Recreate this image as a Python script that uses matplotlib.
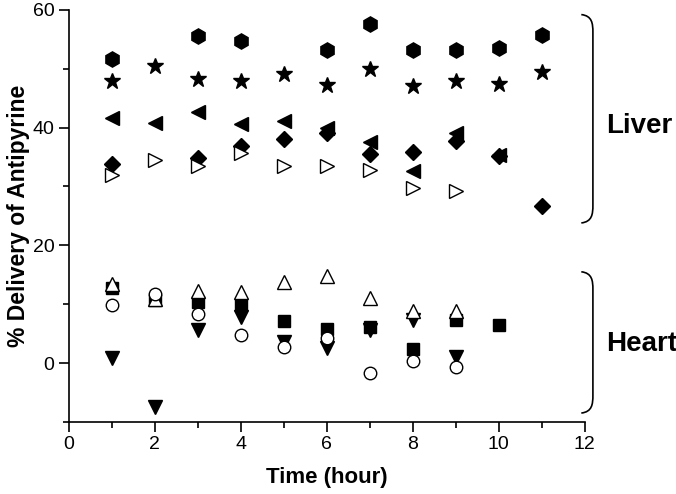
import matplotlib
matplotlib.use("Agg")
import matplotlib.pyplot as plt
from matplotlib.path import Path
from matplotlib.patches import PathPatch

plt.rcParams['font.family'] = ['Liberation Sans', 'DejaVu Sans']

# liver series
hex_x = [1, 3, 4, 6, 7, 8, 9, 10, 11]
hex_y = [51.6, 55.5, 54.7, 53.1, 57.6, 53.2, 53.2, 53.6, 55.7]
star_x = [1, 2, 3, 4, 5, 6, 7, 8, 9, 10, 11]
star_y = [48.0, 50.4, 48.3, 48.0, 49.1, 47.3, 49.9, 47.0, 48.0, 47.4, 49.4]
ltri_x = [1, 2, 3, 4, 5, 6, 7, 8, 9, 10]
ltri_y = [41.6, 40.8, 42.7, 40.6, 41.1, 39.9, 37.5, 32.7, 39.1, 35.4]
dia_x = [1, 3, 4, 5, 6, 7, 8, 9, 10, 11]
dia_y = [33.8, 34.8, 36.8, 38.1, 39.1, 35.5, 35.9, 37.7, 35.2, 26.7]
rtri_x = [1, 2, 3, 4, 5, 6, 7, 8, 9]
rtri_y = [32.0, 34.5, 33.4, 35.7, 33.5, 33.5, 32.8, 29.7, 29.3]

# heart series
utri_x = [1, 2, 3, 4, 5, 6, 7, 8, 9]
utri_y = [13.5, 10.9, 12.2, 12.0, 13.7, 14.8, 11.1, 8.9, 8.9]
sq_x = [1, 2, 3, 4, 5, 6, 7, 8, 9, 10]
sq_y = [12.7, 10.7, 10.3, 9.9, 7.2, 5.8, 6.1, 2.4, 7.3, 6.5]
circ_x = [1, 2, 3, 4, 5, 6, 7, 8, 9]
circ_y = [9.9, 11.8, 8.4, 4.8, 2.8, 4.2, -1.7, 0.4, -0.6]
dtri_x = [1, 2, 3, 4, 5, 6, 7, 8, 9]
dtri_y = [0.8, -7.4, 5.6, 7.9, 3.5, 2.6, 5.6, 7.3, 1.1]

fig = plt.figure(figsize=(6.76, 4.94), dpi=100)
ax = fig.add_axes([0.102, 0.146, 0.763, 0.834])

ms = 10
# filled markers
ax.plot(hex_x, hex_y, 'h', color='black', ms=ms + 1, ls='none')
ax.plot(star_x, star_y, '*', color='black', ms=ms + 2, ls='none')
ax.plot(ltri_x, ltri_y, '<', color='black', ms=ms, ls='none')
ax.plot(dia_x, dia_y, 'D', color='black', ms=ms - 2, ls='none')
ax.plot(sq_x, sq_y, 's', color='black', ms=ms - 2, ls='none')
ax.plot(dtri_x, dtri_y, 'v', color='black', ms=ms, ls='none')
# open markers
ax.plot(rtri_x, rtri_y, '>', mfc='white', mec='black', mew=1, ms=ms, ls='none')
ax.plot(utri_x, utri_y, '^', mfc='white', mec='black', mew=1, ms=ms, ls='none')
ax.plot(circ_x, circ_y, 'o', mfc='white', mec='black', mew=1, ms=ms - 1, ls='none')

ax.set_xlim(0, 12)
ax.set_ylim(-10, 60)
ax.set_xticks(range(0, 13, 2))
ax.set_xticks(range(1, 12, 2), minor=True)
ax.set_yticks([0, 20, 40, 60])
ax.set_yticks([-10, 10, 30, 50], minor=True)
ax.spines['top'].set_visible(False)
ax.spines['right'].set_visible(False)
ax.tick_params(which='major', length=7, width=1.2, labelsize=14)
ax.tick_params(which='minor', length=4, width=1.2)
for s in ['left', 'bottom']:
    ax.spines[s].set_linewidth(1.2)

ax.set_xlabel('Time (hour)', fontsize=16, fontweight='bold', labelpad=10)
ax.set_ylabel('% Delivery of Antipyrine', fontsize=16.5, fontweight='bold', labelpad=2)


# right-side brackets
def bracket(y0, y1):
    xl, xr = 11.92, 12.19
    codes = [Path.MOVETO, Path.CURVE4, Path.CURVE4, Path.CURVE4,
             Path.LINETO, Path.CURVE4, Path.CURVE4, Path.CURVE4]
    verts = [(xl, y1), (xr - 0.02, y1 - 0.2), (xr, y1 - 1.5), (xr, y1 - 3.0),
             (xr, y0 + 3.0), (xr, y0 + 1.5), (xr - 0.02, y0 + 0.2), (xl, y0)]
    ax.add_patch(PathPatch(Path(verts, codes), fill=False, lw=1.2,
                           color='black', clip_on=False))


bracket(23.8, 59.2)
bracket(-8.5, 15.5)
ax.text(12.5, 40.3, 'Liver', fontsize=20, fontweight='bold', va='center', ha='left', clip_on=False)
ax.text(12.5, 3.2, 'Heart', fontsize=20, fontweight='bold', va='center', ha='left', clip_on=False)

fig.savefig('out.png', dpi=100)
